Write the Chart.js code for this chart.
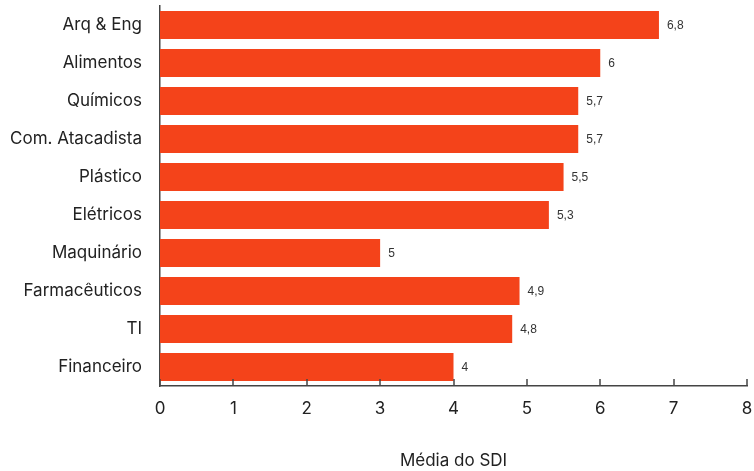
<!DOCTYPE html>
<html>
<head>
<meta charset="utf-8">
<script src="https://cdn.jsdelivr.net/npm/chart.js@4"></script>
<style>
html,body{margin:0;padding:0;background:#fff;overflow:hidden;}
canvas{display:block;}
</style>
</head>
<body>
<canvas id="c" width="754" height="471"></canvas>
<script>
const categories = ["Arq & Eng","Alimentos","Químicos","Com. Atacadista","Plástico","Elétricos","Maquinário","Farmacêuticos","TI","Financeiro"];
const values = [6.8, 6.0, 5.7, 5.7, 5.5, 5.3, 3.0, 4.9, 4.8, 4.0];
const valueLabels = ["6,8","6","5,7","5,7","5,5","5,3","5","4,9","4,8","4"];
const xTicks = [0,1,2,3,4,5,6,7,8];
const axisTitle = "Média do SDI";

const FONT = "Inter, 'DejaVu Sans', sans-serif";
const BAR = "#F4431A";
const AXIS = "#444";

const valueLabelPlugin = {
  id: 'valueLabels',
  afterDatasetsDraw(chart) {
    const ctx = chart.ctx;
    const meta = chart.getDatasetMeta(0);
    ctx.save();
    ctx.font = "12px 'Liberation Sans', Arial, sans-serif";
    ctx.fillStyle = "#333";
    ctx.textAlign = "left";
    ctx.textBaseline = "middle";
    meta.data.forEach((el, i) => {
      ctx.fillText(valueLabels[i], el.x + 8, el.y + 1);
    });
    ctx.restore();
  }
};

const innerTicksPlugin = {
  id: 'innerTicks',
  afterDraw(chart) {
    const ctx = chart.ctx;
    const xs = chart.scales.x;
    ctx.save();
    ctx.strokeStyle = AXIS;
    ctx.lineWidth = 1.5;
    xTicks.forEach(v => {
      const px = Math.round(xs.getPixelForValue(v));
      ctx.beginPath();
      ctx.moveTo(px, xs.top);
      ctx.lineTo(px, xs.top - 7);
      ctx.stroke();
    });
    ctx.restore();
  }
};

new Chart(document.getElementById('c'), {
  type: 'bar',
  data: {
    labels: categories,
    datasets: [{
      data: values,
      backgroundColor: BAR,
      borderWidth: 0,
      barPercentage: 0.737,
      categoryPercentage: 1.0
    }]
  },
  options: {
    indexAxis: 'y',
    responsive: false,
    animation: false,
    layout: { padding: { top: 6, right: 7, bottom: 0, left: 0 } },
    plugins: { legend: { display: false }, tooltip: { enabled: false } },
    scales: {
      x: {
        type: 'linear',
        min: 0, max: 8,
        afterBuildTicks(scale) { scale.ticks = xTicks.map(v => ({ value: v })); },
        afterFit(scale) { scale.height = 85; scale.paddingLeft = 0; scale.paddingRight = 0; },
        grid: { display: false, drawTicks: false },
        border: { display: true, color: AXIS, width: 1.5 },
        ticks: { color: "#222", font: { family: FONT, size: 17 }, padding: 13, maxRotation: 0 },
        title: { display: true, text: axisTitle, color: "#222", font: { family: FONT, size: 17 }, padding: { top: 0, bottom: 0 } }
      },
      y: {
        afterFit(scale) { scale.width = 160; scale.paddingTop = 0; scale.paddingBottom = 0; },
        grid: { display: false, drawTicks: false },
        border: { display: true, color: AXIS, width: 1.5 },
        ticks: { color: "#222", font: { family: FONT, size: 17 }, padding: 18 }
      }
    }
  },
  plugins: [valueLabelPlugin, innerTicksPlugin]
});
</script>
</body>
</html>
